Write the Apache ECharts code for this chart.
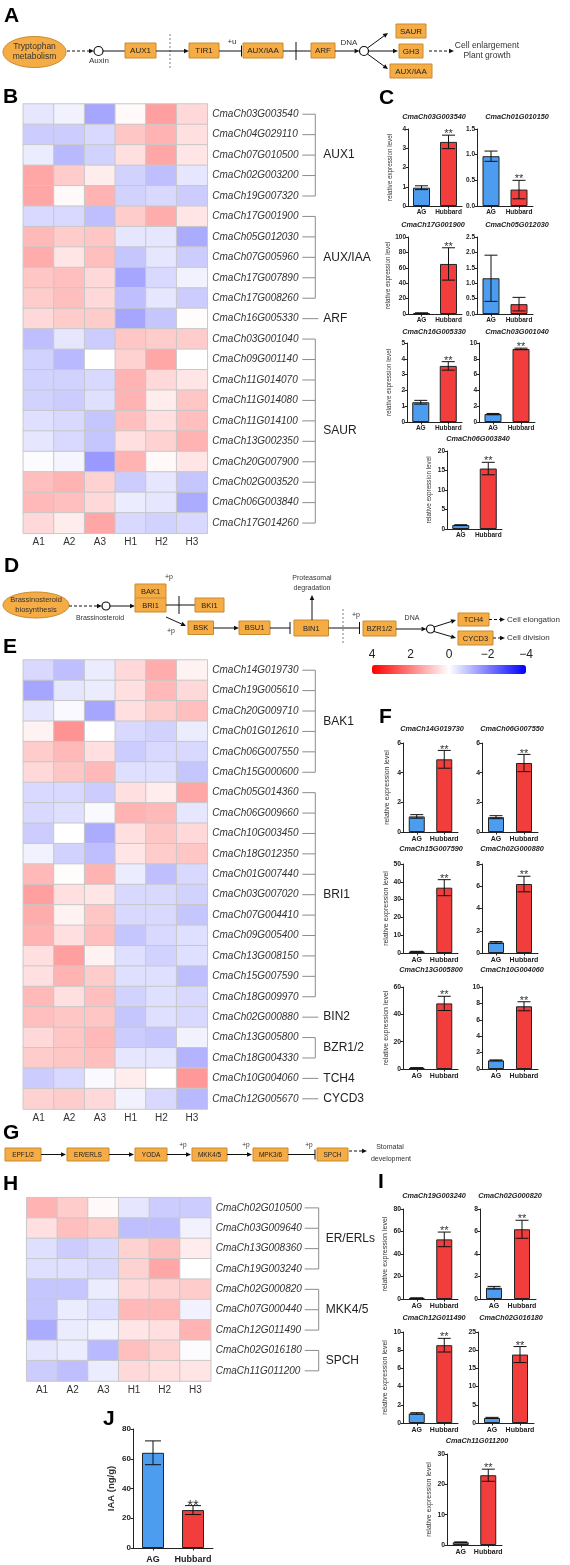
<!DOCTYPE html>
<html><head><meta charset="utf-8">
<script src="https://cdn.jsdelivr.net/npm/echarts@6/dist/echarts.min.js"></script>
<style>html,body{margin:0;padding:0;background:#fff}#c{width:570px;height:1565px}</style>
</head><body><div id="c"></div>
<script>
const FONT = '"Liberation Sans", Arial, Helvetica, sans-serif';
// ---------- DATA ----------
const heatCols = ['A1','A2','A3','H1','H2','H3'];
const genesB = ['CmaCh03G003540','CmaCh04G029110','CmaCh07G010500','CmaCh02G003200','CmaCh19G007320','CmaCh17G001900','CmaCh05G012030','CmaCh07G005960','CmaCh17G007890','CmaCh17G008260','CmaCh16G005330','CmaCh03G001040','CmaCh09G001140','CmaCh11G014070','CmaCh11G014080','CmaCh11G014100','CmaCh13G002350','CmaCh20G007900','CmaCh02G003520','CmaCh06G003840','CmaCh17G014260'];
const valsB = [
 [-0.4,-0.2,-1.4,0.1,1.5,0.6],
 [-0.8,-0.8,-0.6,0.9,1.2,0.5],
 [-0.3,-1.1,-0.7,0.5,1.4,0.4],
 [1.4,0.8,0.3,-0.7,-1.0,-0.4],
 [1.4,0.1,1.2,-0.7,-0.6,-0.8],
 [-0.6,-0.6,-1.0,0.8,1.3,0.4],
 [1.1,0.8,0.9,-0.4,-0.4,-1.3],
 [1.3,0.4,1.0,-0.9,-0.4,-0.8],
 [0.9,1.0,0.6,-1.4,-0.6,-0.2],
 [0.8,1.0,0.6,-1.0,-0.4,-0.8],
 [0.6,0.8,0.8,-1.4,-0.9,0.05],
 [-1.0,-0.4,-0.8,0.9,0.8,0.8],
 [-0.7,-1.1,0.0,0.7,1.4,0.0],
 [-0.7,-0.7,-0.6,1.2,0.6,0.4],
 [-0.7,-0.8,-0.5,1.2,0.3,0.9],
 [-0.5,-0.6,-0.9,1.0,0.5,1.0],
 [-0.4,-0.6,-0.9,0.5,0.7,1.2],
 [-0.05,-0.15,-1.6,1.2,0.1,0.4],
 [1.0,1.2,0.7,-0.8,-0.4,-0.9],
 [1.1,1.0,0.6,-0.3,-0.4,-1.3],
 [0.6,0.3,1.4,-0.6,-0.7,-0.6]
];
const groupsB = [['AUX1',0,4],['AUX/IAA',5,9],['ARF',10,10],['SAUR',11,20]];

const genesE = ['CmaCh14G019730','CmaCh19G005610','CmaCh20G009710','CmaCh01G012610','CmaCh06G007550','CmaCh15G000600','CmaCh05G014360','CmaCh06G009660','CmaCh10G003450','CmaCh18G012350','CmaCh01G007440','CmaCh03G007020','CmaCh07G004410','CmaCh09G005400','CmaCh13G008150','CmaCh15G007590','CmaCh18G009970','CmaCh02G000880','CmaCh13G005800','CmaCh18G004330','CmaCh10G004060','CmaCh12G005670'];
const valsE = [
 [-0.6,-1.0,-0.3,0.6,1.3,0.2],
 [-1.4,-0.4,-0.3,0.5,1.1,0.6],
 [-0.4,-0.1,-1.4,0.5,0.8,1.0],
 [0.2,1.7,0.0,-0.6,-0.7,-0.3],
 [0.8,1.1,0.5,-0.8,-0.6,-0.6],
 [0.6,0.9,1.1,-0.5,-0.5,-0.9],
 [-0.6,-0.6,-0.8,0.5,0.3,1.4],
 [-0.6,-0.5,-0.1,1.2,1.1,-0.4],
 [-0.8,0.0,-1.3,0.5,0.9,0.6],
 [-0.2,-0.7,-1.0,0.4,0.8,0.9],
 [1.1,0.05,1.2,-0.3,-1.0,-0.6],
 [1.5,0.5,0.4,-0.6,-0.6,-0.7],
 [1.3,0.2,0.9,-0.6,-0.6,-0.9],
 [1.2,0.5,1.0,-0.9,-0.6,-0.5],
 [0.5,1.5,0.2,-0.5,-0.7,-0.5],
 [0.5,1.2,0.8,-0.5,-0.5,-1.0],
 [1.1,0.5,1.0,-0.7,-0.5,-0.6],
 [1.0,0.9,0.9,-0.9,-0.5,-0.6],
 [0.6,0.9,1.1,-0.8,-0.9,-0.2],
 [0.8,0.9,1.0,-0.4,-0.4,-1.2],
 [-0.8,-0.6,-0.1,0.3,0.0,1.6],
 [0.7,0.8,0.6,-0.2,-0.6,-1.1]
];
const groupsE = [['BAK1',0,5],['BRI1',6,16],['BIN2',17,17],['BZR1/2',18,19],['TCH4',20,20],['CYCD3',21,21]];

const genesH = ['CmaCh02G010500','CmaCh03G009640','CmaCh13G008360','CmaCh19G003240','CmaCh02G000820','CmaCh07G000440','CmaCh12G011490','CmaCh02G016180','CmaCh11G011200'];
const valsH = [
 [1.2,0.8,0.1,-0.4,-0.8,-0.8],
 [0.5,1.0,0.8,-1.0,-1.0,-0.2],
 [-0.5,-0.8,-0.6,0.7,1.0,0.3],
 [-0.5,-0.5,-0.6,0.7,1.4,0.0],
 [-0.9,-0.9,-0.3,0.6,0.7,0.8],
 [-0.9,-0.3,-0.5,1.1,1.1,-0.2],
 [-1.3,-0.3,-0.2,0.4,0.5,1.2],
 [-0.4,-0.3,-1.1,1.0,0.7,-0.05],
 [-0.8,-1.0,-0.3,0.6,0.5,0.4]
];
const groupsH = [['ER/ERLs',0,3],['MKK4/5',4,6],['SPCH',7,8]];

const legendTicks = {min:-4, max:4, interval:2};

const barCats = ['AG','Hubbard'];
// Panel C
const cTitles = ['CmaCh03G003540','CmaCh01G010150','CmaCh17G001900','CmaCh05G012030','CmaCh16G005330','CmaCh03G001040','CmaCh06G003840'];
const cAG     = [0.95, 0.97, 1.0, 1.16, 1.25, 1.0, 1.0];
const cAGerr  = [0.10, 0.10, 0.6, 0.75, 0.12, 0.08, 0.10];
const cHub    = [3.33, 0.32, 65, 0.32, 3.55, 9.25, 15.5];
const cHubErr = [0.35, 0.18, 21, 0.22, 0.27, 0.10, 1.6];
const cMax    = [4, 1.5, 100, 2.5, 5, 10, 20];
const cInt    = [1, 0.5, 20, 0.5, 1, 2, 5];
const cSig    = [1, 1, 1, 0, 1, 1, 1];
// Panel F
const fTitles = ['CmaCh14G019730','CmaCh06G007550','CmaCh15G007590','CmaCh02G000880','CmaCh13G005800','CmaCh10G004060'];
const fAG     = [1.05, 1.0, 0.8, 0.95, 0.8, 1.05];
const fAGerr  = [0.12, 0.10, 0.15, 0.08, 0.2, 0.06];
const fHub    = [4.9, 4.65, 36.7, 6.2, 48, 7.65];
const fHubErr = [0.6, 0.58, 4.5, 0.7, 5.2, 0.55];
const fMax    = [6, 6, 50, 8, 60, 10];
const fInt    = [2, 2, 10, 2, 20, 2];
const fSig    = [1, 1, 1, 1, 1, 1];
// Panel I
const iTitles = ['CmaCh19G003240','CmaCh02G000820','CmaCh12G011490','CmaCh02G016180','CmaCh11G011200'];
const iAG     = [0.8, 1.0, 1.05, 1.4, 0.9];
const iAGerr  = [0.25, 0.12, 0.08, 0.15, 0.12];
const iHub    = [53, 6.2, 8.55, 18.8, 23];
const iHubErr = [6.5, 0.8, 0.75, 2.2, 2.0];
const iMax    = [80, 8, 10, 25, 30];
const iInt    = [20, 2, 2, 5, 10];
const iSig    = [1, 1, 1, 1, 1];
// Panel J
const jCats = ['AG','Hubbard'];
const jIAA = [64, 25.5];
const jErr = [8, 3];
const jSig = [0, 1];

// ---------- LAYOUT ----------
const BLUE = '#4C9DEF', RED = '#F23D3D';
const cLayout = [[408,129,54,77,434,117],[477,129,56,77,517,117],[408,237,54,77,433,225],[477,237,56,77,517,225],[407,343,55,79,434,332],[479,343,56,79,517,332],[447,451,55,78,478,439]];
const fLayout = [[403,743,55,89,432,729],[482,743,56,89,512,729],[403,864,55,89,431,849],[482,864,56,89,512,849],[403,987,55,82,431,970],[482,987,56,82,512,970]];
const iLayout = [[403,1209,55,90,434,1196],[480,1209,56,90,510,1196],[403,1332,55,91,434,1318],[478,1332,56,91,511,1318],[447,1454,55,91,477,1441]];

const option = {animation:false, backgroundColor:'#fff', textStyle:{fontFamily:FONT},
  grid:[], xAxis:[], yAxis:[], series:[], graphic:[], visualMap:[]};
const G = option.graphic;
function T(x,y,s,fs,o){G.push({type:'text', silent:true, style:Object.assign({x:x,y:y,text:s,fontSize:fs,fontFamily:FONT,fill:'#333',align:'center',verticalAlign:'middle'},o||{})});}
function L(x1,y1,x2,y2,o){G.push({type:'line', silent:true, shape:{x1:x1,y1:y1,x2:x2,y2:y2}, style:Object.assign({stroke:'#111',lineWidth:1},o||{})});}
function AR(x1,y1,x2,y2,o){const dx=x2-x1,dy=y2-y1,len=Math.hypot(dx,dy),ux=dx/len,uy=dy/len,h=5,w=2.3;const bx=x2-ux*h,by=y2-uy*h;L(x1,y1,bx,by,o);G.push({type:'polygon',silent:true,shape:{points:[[x2,y2],[bx-uy*w,by+ux*w],[bx+uy*w,by-ux*w]]},style:{fill:'#111'}});}
function INH(x1,y,x2,h){L(x1,y,x2,y);L(x2,y-h,x2,y+h);}
const ORANGE='#F6AC45', OB='#C98A30';
function BOX(x1,y1,x2,y2,s,fs){G.push({type:'rect',silent:true,shape:{x:x1,y:y1,width:x2-x1,height:y2-y1},style:{fill:ORANGE,stroke:OB,lineWidth:1}});if(s)T((x1+x2)/2,(y1+y2)/2+0.5,s,fs,{fill:'#222'});}
function CIR(cx,cy,r){G.push({type:'circle',silent:true,shape:{cx:cx,cy:cy,r:r},style:{fill:'#fff',stroke:'#111',lineWidth:1.2}});}
function ELL(cx,cy,rx,ry){G.push({type:'ellipse',silent:true,shape:{cx:cx,cy:cy,rx:rx,ry:ry},style:{fill:ORANGE,stroke:OB,lineWidth:1}});}
function VDOT(x,y1,y2){L(x,y1,x,y2,{stroke:'#bdbdbd',lineWidth:2,lineDash:[2,2]});}
function LET(x,y,s){T(x,y,s,21,{align:'left',fontWeight:'bold',fill:'#000'});}
const DASH={lineDash:[3,2]};

// Panel letters
LET(4,16,'A'); LET(3,97,'B'); LET(379,98,'C'); LET(4,566,'D'); LET(3,647,'E'); LET(379,717,'F'); LET(3,1133,'G'); LET(3,1184,'H'); LET(378,1182,'I'); LET(103,1419,'J');

// Panel A pathway
ELL(34.5,52,31.5,15.5); T(34.5,47,'Tryptophan',8.5); T(34.5,57,'metabolism',8.5);
AR(67,51,94,51,DASH); CIR(98.5,51,4.5); T(99,61,'Auxin',8);
L(103,51,125,51); BOX(125,43,156,58,'AUX1',8);
VDOT(170,34,68); AR(156,51,189,51);
BOX(189,43,219,58,'TIR1',8); T(232,42,'+u',8);
INH(219,51,241.5,5.5); BOX(243,43,283,58,'AUX/IAA',8);
L(283,51,311,51); L(296,42,296,60);
BOX(311,43,335,58,'ARF',8); T(349,43,'DNA',8);
AR(335,51,359.5,51); CIR(364,51,4.5);
AR(367.5,48,388,33); AR(368.5,51,398,51); AR(367.5,54,388,69);
BOX(396,24,426,38,'SAUR',8); BOX(399,44,423,58,'GH3',8); BOX(390,64,432,78,'AUX/IAA',8);
AR(429,51,454,51,DASH);
T(487,46,'Cell enlargement',8.5); T(487,56,'Plant growth',8.5);

// Panel D pathway
ELL(36,605,33,13); T(36,600,'Brassinosteroid',7.5); T(36,610,'biosynthesis',7.5);
AR(69,606,102,606,DASH); CIR(106,606,4); T(100,618,'Brassinosteroid',7);
AR(110,606,135,606);
BOX(135,584,166,612,null); L(135,598,166,598,{stroke:OB}); T(150.5,591.5,'BAK1',7.5,{fill:'#222'}); T(150.5,605.5,'BRI1',7.5,{fill:'#222'});
T(169,577,'+p',7);
L(166,605,195,605); L(179,596,179,614);
BOX(195,598,224,612,'BKI1',7.5);
AR(166,617,186,626); T(171,631,'+p',7);
BOX(188,621,213.5,634.5,'BSK',7.5);
AR(213.5,628,239,628);
BOX(239,621,270,634.5,'BSU1',7.5);
INH(270,628,290,6);
BOX(294,620,328.5,636,'BIN1',7.5);
AR(312,620,312,595); T(312,578,'Proteasomal',7); T(312,588,'degradation',7);
INH(328.5,628,359.5,6); VDOT(343,609,644); T(356,615,'+p',7);
BOX(363,621,396,636,'BZR1/2',7.5);
T(412,618.5,'DNA',7);
AR(396,629,426.5,629); CIR(430.5,629,4);
AR(434,627,456,620); AR(434,631.5,456,638);
BOX(458,613,489,626,'TCH4',7.5); BOX(458,631,493,645,'CYCD3',7.5);
AR(489,619.5,505,619.5,DASH); T(507,619.5,'Cell elongation',8,{align:'left'});
AR(493,638,505,638,DASH); T(507,638,'Cell division',8,{align:'left'});

// Panel G pathway
const gy=1154.5;
BOX(5,1148,41,1161,'EPF1/2',6.5); AR(41,gy,66,gy);
BOX(67,1148,109,1161,'ER/ERLS',6.5); AR(109,gy,134,gy);
BOX(135,1148,167,1161,'YODA',6.5); AR(167,gy,191,gy); T(183,1145,'+p',6.5);
BOX(192,1148,227,1161,'MKK4/5',6.5); AR(227,gy,252,gy); T(246,1145,'+p',6.5);
BOX(253,1148,288,1161,'MPK3/6',6.5); INH(288,gy,315,5); T(309,1145,'+p',6.5);
BOX(317,1148,348,1161,'SPCH',6.5); AR(349,1151,367,1151,DASH);
T(390,1147,'Stomatal',7); T(391,1159,'development',7);

// ---------- HEATMAPS ----------
function makeBracket(groups, off){
  return function(params, api){
    const g = groups[params.dataIndex];
    const cs = params.coordSys;
    const right = cs.x + cs.width;
    const y0 = api.coord([0, g[1]])[1], y1 = api.coord([0, g[2]])[1];
    const x0 = right + off[0], xb = right + off[1], xl = right + off[2];
    const st = {stroke:'#8c8c8c', lineWidth:1};
    const ch = [];
    if (g[1] === g[2]) {
      ch.push({type:'line', shape:{x1:x0,y1:y0,x2:xb+3,y2:y0}, style:st});
    } else {
      for (let r = g[1]; r <= g[2]; r++) { const y = api.coord([0, r])[1]; ch.push({type:'line', shape:{x1:x0,y1:y,x2:xb,y2:y}, style:st}); }
      ch.push({type:'line', shape:{x1:xb,y1:y0,x2:xb,y2:y1}, style:st});
    }
    ch.push({type:'text', style:{x:xl, y:(y0+y1)/2, text:g[0], fontSize:12, fontFamily:FONT, fill:'#222', align:'left', verticalAlign:'middle'}});
    return {type:'group', children:ch};
  };
}
const heatSeries = [];
function addHeat(genes, vals, groups, rect, off){
  const gi = option.grid.length;
  option.grid.push({left:rect[0], top:rect[1], width:rect[2], height:rect[3]});
  option.xAxis.push({gridIndex:gi, type:'category', data:heatCols, position:'bottom', axisLine:{show:false}, axisTick:{show:false}, splitLine:{show:false}, axisLabel:{interval:0, fontSize:10, color:'#333', margin:4, fontFamily:FONT}});
  option.yAxis.push({gridIndex:gi, type:'category', data:genes, inverse:true, position:'right', axisLine:{show:false}, axisTick:{show:false}, splitLine:{show:false}, axisLabel:{interval:0, fontSize:10, fontStyle:'italic', color:'#333', margin:5, fontFamily:FONT}});
  const data = [];
  vals.forEach((row, r) => row.forEach((v, c) => data.push([c, r, v])));
  heatSeries.push(option.series.length);
  option.series.push({type:'heatmap', xAxisIndex:gi, yAxisIndex:gi, data:data, silent:true, itemStyle:{borderColor:'#c8c8c8', borderWidth:1}});
  option.series.push({type:'custom', xAxisIndex:gi, yAxisIndex:gi, clip:false, silent:true, data:groups.map(g => [0, g[1], g[2]]), encode:{x:0, y:1}, renderItem:makeBracket(groups, off)});
}
addHeat(genesB, valsB, groupsB, [23.3,104,184,429.3], [95,108,116]);
addHeat(genesE, valsE, groupsE, [23.3,660,184,449], [95,108,116]);
addHeat(genesH, valsH, groupsH, [26.7,1197.7,184,183.3], [94,108,115]);

option.visualMap.push({type:'continuous', min:legendTicks.min, max:legendTicks.max, orient:'horizontal', inverse:true, left:372, top:665, itemWidth:9, itemHeight:154, padding:0, calculable:false, hoverLink:false, text:null, seriesIndex:heatSeries, inRange:{color:['#0000ff','#ffffff','#ff0000']}});
// legend tick labels via an axis
(function(){
  const gi = option.grid.length;
  option.grid.push({left:372, top:665, width:154, height:9});
  option.xAxis.push({gridIndex:gi, type:'value', min:legendTicks.min, max:legendTicks.max, interval:legendTicks.interval, inverse:true, position:'top', axisLine:{show:false}, axisTick:{show:false}, splitLine:{show:false}, axisLabel:{fontSize:12, color:'#222', margin:4, fontFamily:FONT, formatter:v => v < 0 ? '\u2212' + (-v) : String(v)}});
  option.yAxis.push({gridIndex:gi, type:'value', show:false, min:0, max:1});
  option.series.push({type:'scatter', xAxisIndex:gi, yAxisIndex:gi, data:[], silent:true});
})();

// ---------- BAR CHARTS ----------
function errRender(sig, capHalf, astFs){
  return function(params, api){
    const i = api.value(0), m = api.value(1), e = api.value(2);
    const top = api.coord([i, m + e]), bot = api.coord([i, Math.max(0, m - e)]);
    const x = top[0];
    const st = {stroke:'#111', lineWidth:1};
    const ch = [
      {type:'line', shape:{x1:x,y1:top[1],x2:x,y2:bot[1]}, style:st},
      {type:'line', shape:{x1:x-capHalf,y1:top[1],x2:x+capHalf,y2:top[1]}, style:st},
      {type:'line', shape:{x1:x-capHalf,y1:bot[1],x2:x+capHalf,y2:bot[1]}, style:st}
    ];
    if (sig[i]) ch.push({type:'text', style:{x:x, y:top[1] - 3 - 0.31*astFs, text:'**', fontSize:astFs, fontFamily:FONT, fill:'#333', align:'center', verticalAlign:'top'}});
    return {type:'group', children:ch};
  };
}
function addBar(title, ag, agE, hub, hubE, max, interval, sigHub, lay, o){
  const gi = option.grid.length;
  option.grid.push({left:lay[0], top:lay[1], width:lay[2], height:lay[3]});
  option.xAxis.push({gridIndex:gi, type:'category', data:o.cats || barCats, axisLine:{lineStyle:{color:'#222', width:1}}, axisTick:{show:true, alignWithLabel:true, interval:0, length:2.5, lineStyle:{color:'#222'}}, splitLine:{show:false}, axisLabel:{interval:0, hideOverlap:false, fontSize:o.xfs, fontWeight:'bold', color:'#222', margin:o.xm, fontFamily:FONT}});
  option.yAxis.push({gridIndex:gi, type:'value', min:0, max:max, interval:interval, axisLine:{show:true, lineStyle:{color:'#222', width:1}}, axisTick:{show:true, length:2.5, lineStyle:{color:'#222'}}, splitLine:{show:false},
    axisLabel:{fontSize:o.yfs, fontWeight:'bold', color:'#222', margin:2, fontFamily:FONT, formatter:v => interval < 1 ? v.toFixed(1) : String(v)},
    name:o.yname || '', nameLocation:'middle', nameGap:o.ng, nameTextStyle:{fontSize:o.nfs, color:'#333', fontWeight:o.nfw || 'normal', fontFamily:FONT}});
  option.series.push({type:'bar', xAxisIndex:gi, yAxisIndex:gi, barWidth:o.bw, silent:true,
    data:[{value:ag, itemStyle:{color:BLUE}}, {value:hub, itemStyle:{color:RED}}], itemStyle:{borderColor:'#222', borderWidth:1}});
  option.series.push({type:'custom', xAxisIndex:gi, yAxisIndex:gi, clip:false, silent:true, z:5,
    data:[[0, ag, agE], [1, hub, hubE]], encode:{x:0, y:1}, renderItem:errRender([0, sigHub], o.cap, o.afs)});
  if (title) T(lay[4], lay[5], title, o.tfs, {fontStyle:'italic', fontWeight:'bold', fill:'#222'});
}
const REL = 'relative expression level';
cTitles.forEach((t, k) => addBar(t, cAG[k], cAGerr[k], cHub[k], cHubErr[k], cMax[k], cInt[k], cSig[k], cLayout[k],
  {xfs:6.5, yfs:6.5, xm:3, ng:15, nfs:6.3, bw:17, cap:6.5, afs:11, tfs:7.3, yname:(k % 2 === 0) ? REL : ''}));
fTitles.forEach((t, k) => addBar(t, fAG[k], fAGerr[k], fHub[k], fHubErr[k], fMax[k], fInt[k], fSig[k], fLayout[k],
  {xfs:7, yfs:6.8, xm:4, ng:12.5, nfs:7, bw:16, cap:6.5, afs:11, tfs:7.3, yname:(k % 2 === 0) ? REL : ''}));
iTitles.forEach((t, k) => addBar(t, iAG[k], iAGerr[k], iHub[k], iHubErr[k], iMax[k], iInt[k], iSig[k], iLayout[k],
  {xfs:7, yfs:6.8, xm:4, ng:14, nfs:7, bw:16, cap:6.5, afs:11, tfs:7.3, yname:(k % 2 === 0) ? REL : ''}));
addBar(null, jIAA[0], jErr[0], jIAA[1], jErr[1], 80, 20, jSig[1], [133,1429,80,119],
  {cats:jCats, xfs:9, yfs:8, xm:7, ng:17, nfs:9.5, nfw:'bold', bw:22, cap:8, afs:15, yname:'IAA (ng/g)'});

const chart = echarts.init(document.getElementById('c'), null, {renderer:'canvas'});
chart.setOption(option);
</script></body></html>
